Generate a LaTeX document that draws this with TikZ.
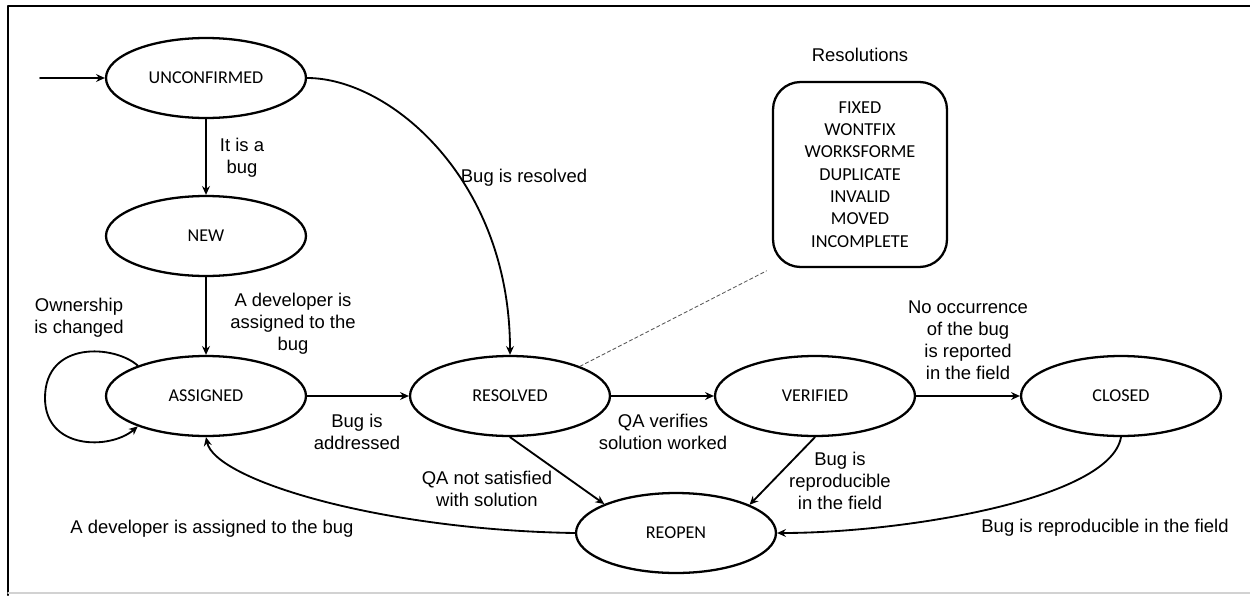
\documentclass[tikz,border=0pt]{standalone}
\usepackage{fontspec}
\setmainfont{Liberation Sans}
\newfontfamily\statefont{Carlito}
\usetikzlibrary{shapes.geometric,arrows.meta}
\tikzset{
  state/.style={draw, ellipse, line width=1.3pt, minimum width=4cm, minimum height=1.6cm,
    inner sep=0pt, font=\statefont\fontsize{10.3}{12.7}\selectfont},
  lbl/.style={align=center, inner sep=1pt, font=\fontsize{10.5}{12.6}\selectfont},
  flow/.style={->, line width=1.05pt}
}
\begin{document}
\begin{tikzpicture}[x=0.02cm, y=-0.02cm, >={Stealth[length=5pt,width=4.5pt]}, line join=round, line cap=round]
\useasboundingbox (0,0) rectangle (1250,595);
% frame
\draw[line width=1.4pt] (8,595)--(8,6)--(1250,6);
\draw[gray!35, line width=0.8pt] (8,593)--(1250,593);
% states
\node[state] (unconf) at (206,78) {UNCONFIRMED};
\node[state] (new) at (206,236) {NEW};
\node[state] (assigned) at (206,396) {ASSIGNED};
\node[state] (resolved) at (510,396) {RESOLVED};
\node[state] (verified) at (815,396) {VERIFIED};
\node[state] (closed) at (1121,396) {CLOSED};
\node[state] (reopen) at (676,533) {REOPEN};
% resolutions
\node[lbl] (restitle) at (860,55) {Resolutions};
\node[draw, rounded corners=0.55cm, line width=1.3pt, minimum width=3.48cm, minimum height=3.7cm,
  align=center, font=\statefont\fontsize{10.4}{12.7}\selectfont] (resbox) at (860,174.5)
  {FIXED\\WONTFIX\\WORKSFORME\\DUPLICATE\\INVALID\\MOVED\\INCOMPLETE};
\draw[gray!70!black, line width=0.5pt, dash pattern=on 2pt off 1.5pt, shorten >=3.4pt]
  (resolved.23)--(resbox.south west);
% transitions
\coordinate (start) at (40,78);
\draw[flow] (start)--(unconf);
\draw[flow] (unconf)--(new);
\draw[flow] (new)--(assigned);
\draw[flow] (assigned)--(resolved);
\draw[flow] (resolved)--(verified);
\draw[flow] (verified)--(closed);
\draw[flow] (resolved.south)--(reopen.158);
\draw[flow] (verified.south)--(reopen.21);
\draw[flow] (unconf.east) .. controls (390,78) and (510,180) .. (resolved.north);
\draw[flow] (reopen.west) .. controls (380,530) and (215,480) .. (assigned.south);
\draw[flow] (closed.south) .. controls (1110,500) and (900,533) .. (reopen.east);
\draw[flow] (assigned.156) .. controls (115,345) and (45,340) .. (45,398)
  .. controls (45,450) and (110,450) .. (assigned.204);
% labels
\node[lbl] (lisbug) at (242,158) {It is a\\bug};
\node[lbl] (ldevnew) at (293,324) {A developer is\\assigned to the\\bug};
\node[lbl] (lowner) at (79,318) {Ownership\\is changed};
\node[lbl] (laddr) at (357,432) {Bug is\\addressed};
\node[lbl] (lresolved) at (524,178) {Bug is resolved};
\node[lbl] (lqaok) at (663,432) {QA verifies\\solution worked};
\node[lbl] (lnooccur) at (968,340) {No occurrence\\of the bug\\is reported\\in the field};
\node[lbl] (lqanot) at (487,489) {QA not satisfied\\with solution};
\node[lbl] (lreproV) at (840,481) {Bug is\\reproducible\\in the field};
\node[lbl] (ldevreo) at (212,529) {A developer is assigned to the bug};
\node[lbl] (lreproC) at (1105,528) {Bug is reproducible in the field};
\end{tikzpicture}
\end{document}
